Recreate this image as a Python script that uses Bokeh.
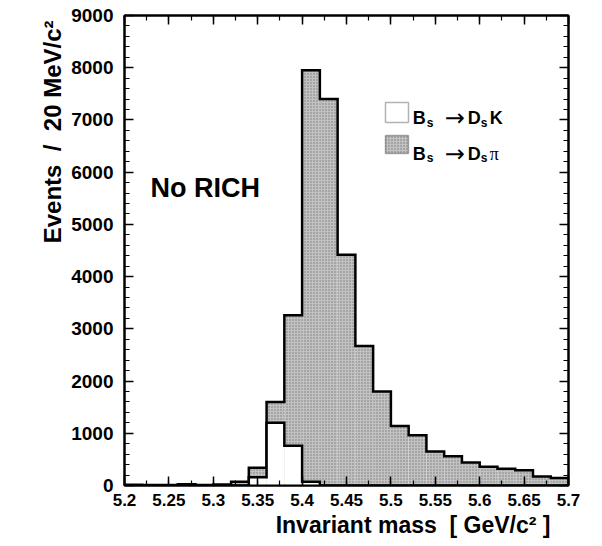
import numpy as np
from bokeh.plotting import figure
from bokeh.models import (LinearAxis, FixedTicker, Title, Label, BoxAnnotation, Range1d)
from bokeh.embed import file_html
from bokeh.resources import INLINE

# ---------------- data ----------------
bin_low = 5.20
bin_width = 0.02
n_bins = 25
ds_pi = [15, 10, 10, 25, 10, 20, 70, 340, 1600, 3260, 7950, 7400, 4420, 2670,
         1800, 1140, 960, 650, 560, 440, 360, 320, 290, 170, 145]
ds_k = [0, 0, 0, 0, 0, 0, 0, 160, 1200, 760, 70, 0, 0, 0,
        0, 0, 0, 0, 0, 0, 0, 0, 0, 0, 0]
x_tick_values = [5.2, 5.25, 5.3, 5.35, 5.4, 5.45, 5.5, 5.55, 5.6, 5.65, 5.7]
x_tick_labels = ["5.2", "5.25", "5.3", "5.35", "5.4", "5.45", "5.5", "5.55", "5.6", "5.65", "5.7"]
y_tick_values = [0, 1000, 2000, 3000, 4000, 5000, 6000, 7000, 8000, 9000]
y_tick_labels = ["0", "1000", "2000", "3000", "4000", "5000", "6000", "7000", "8000", "9000"]

edges = bin_low + bin_width * np.arange(n_bins + 1)
left = edges[:-1]
right = edges[1:]

FONT = "Liberation Sans"
FILL = "#c2c2c2"
NB = "\u00a0"

p = figure(width=602, height=546, frame_width=444, frame_height=470,
           output_backend="svg", toolbar_location=None,
           x_range=Range1d(5.2, 5.7), y_range=Range1d(0, 9000),
           min_border_left=124, min_border_right=34, min_border_top=15,
           min_border_bottom=61, x_axis_location="below", y_axis_location="left")
p.grid.visible = False
p.background_fill_color = "white"
p.border_fill_color = "white"
p.outline_line_color = "black"
p.outline_line_width = 2

# shaded Ds pi histogram
p.quad(left=left, right=right, bottom=0, top=ds_pi, fill_color=FILL, line_color=None,
       hatch_pattern=".", hatch_color="#444444", hatch_scale=3, hatch_weight=1, hatch_alpha=0.6)

def step_path(vals):
    xs, ys = [edges[0]], [0]
    for i, v in enumerate(vals):
        xs += [edges[i], edges[i + 1]]
        ys += [v, v]
    xs.append(edges[-1]); ys.append(0)
    return xs, ys

xs, ys = step_path(ds_pi)
p.line(xs, ys, line_color="black", line_width=2.5, line_join="miter")

# open Ds K histogram on top
p.quad(left=left, right=right, bottom=0, top=ds_k, fill_color="white", line_color=None)
xs, ys = step_path(ds_k)
p.line(xs, ys, line_color="black", line_width=2.5, line_join="miter")

# ---------------- axes ----------------
x_minor = list(np.round(np.arange(5.2, 5.7001, 0.025), 4))
y_minor = list(range(0, 9001, 200))
xt = FixedTicker(ticks=x_tick_values, minor_ticks=x_minor)
yt = FixedTicker(ticks=y_tick_values, minor_ticks=y_minor)

def style(ax, labels=True):
    ax.axis_line_width = 2
    ax.axis_line_color = "black"
    ax.major_tick_in = 9
    ax.major_tick_out = 0
    ax.minor_tick_in = 5
    ax.minor_tick_out = 0
    ax.major_tick_line_width = 1.5
    ax.minor_tick_line_width = 1.2
    ax.major_tick_line_color = "black"
    ax.minor_tick_line_color = "black"
    ax.major_label_text_font = FONT
    ax.major_label_text_font_style = "bold"
    ax.major_label_text_color = "black" if labels else None

xa = p.xaxis[0]
xa.ticker = xt
xa.major_label_overrides = {v: t for v, t in zip(x_tick_values, x_tick_labels)}
style(xa)
xa.major_label_text_font_size = "17px"
xa.major_label_standoff = 8

ya = p.yaxis[0]
ya.ticker = yt
ya.major_label_overrides = {v: t for v, t in zip(y_tick_values, y_tick_labels)}
style(ya)
ya.major_label_text_font_size = "19px"
ya.major_label_standoff = 11

top_ax = LinearAxis(ticker=xt)
style(top_ax, labels=False)
p.add_layout(top_ax, "above")
right_ax = LinearAxis(ticker=yt)
style(right_ax, labels=False)
p.add_layout(right_ax, "right")

xtitle = Title(text="Invariant" + NB + "mass" + NB * 2 + "[" + NB + "GeV/c²" + NB + "]",
               align="right", offset=18,
               text_font=FONT, text_font_size="23px", text_font_style="bold",
               text_color="black", standoff=2)
p.add_layout(xtitle, "below")
ytitle = Title(text="Events" + NB * 2 + "/" + NB * 2 + "20" + NB + "MeV/c²",
               align="right", offset=5,
               text_font=FONT, text_font_size="24px", text_font_style="bold",
               text_color="black", standoff=6)
p.add_layout(ytitle, "left")

# ---------------- text annotations ----------------
p.add_layout(Label(x=5.2293, y=5706, text="No" + NB + "RICH", text_font=FONT,
                   text_font_size="27px", text_font_style="bold", text_color="black",
                   text_baseline="alphabetic"))

# legend boxes
p.add_layout(BoxAnnotation(left=5.4939, right=5.5198, bottom=6950, top=7333,
                           fill_color="white", fill_alpha=1, line_color="black",
                           line_width=1.5))
p.add_layout(BoxAnnotation(left=5.4939, right=5.5198, bottom=6357, top=6700,
                           fill_color=FILL, fill_alpha=1, line_color="black",
                           line_width=1.5, hatch_pattern=".", hatch_color="#444444",
                           hatch_scale=3, hatch_weight=1, hatch_alpha=0.6))

leg_x = 5.5245
rows = [(7028, "K"), (6357, "π")]
for base_y, last in rows:
    pieces = [("B", 0, 0, "18px", "bold", FONT),
              ("s", 14, -80, "12px", "bold", FONT),
              ("→", 32, 0, "24px", "normal", "DejaVu Sans"),
              ("D", 55, 0, "18px", "bold", FONT),
              ("s", 68, -80, "12px", "bold", FONT),
              (last, 77, 0, "18px", "bold" if last == "K" else "normal",
               FONT if last == "K" else "Liberation Serif")]
    for txt, dx, dy, fs, st, fn in pieces:
        p.add_layout(Label(x=leg_x, y=base_y + dy, x_offset=dx, text=txt,
                           text_font=fn, text_font_size=fs, text_font_style=st,
                           text_baseline="alphabetic", text_color="black"))

open("out.html", "w").write(file_html(p, INLINE))
